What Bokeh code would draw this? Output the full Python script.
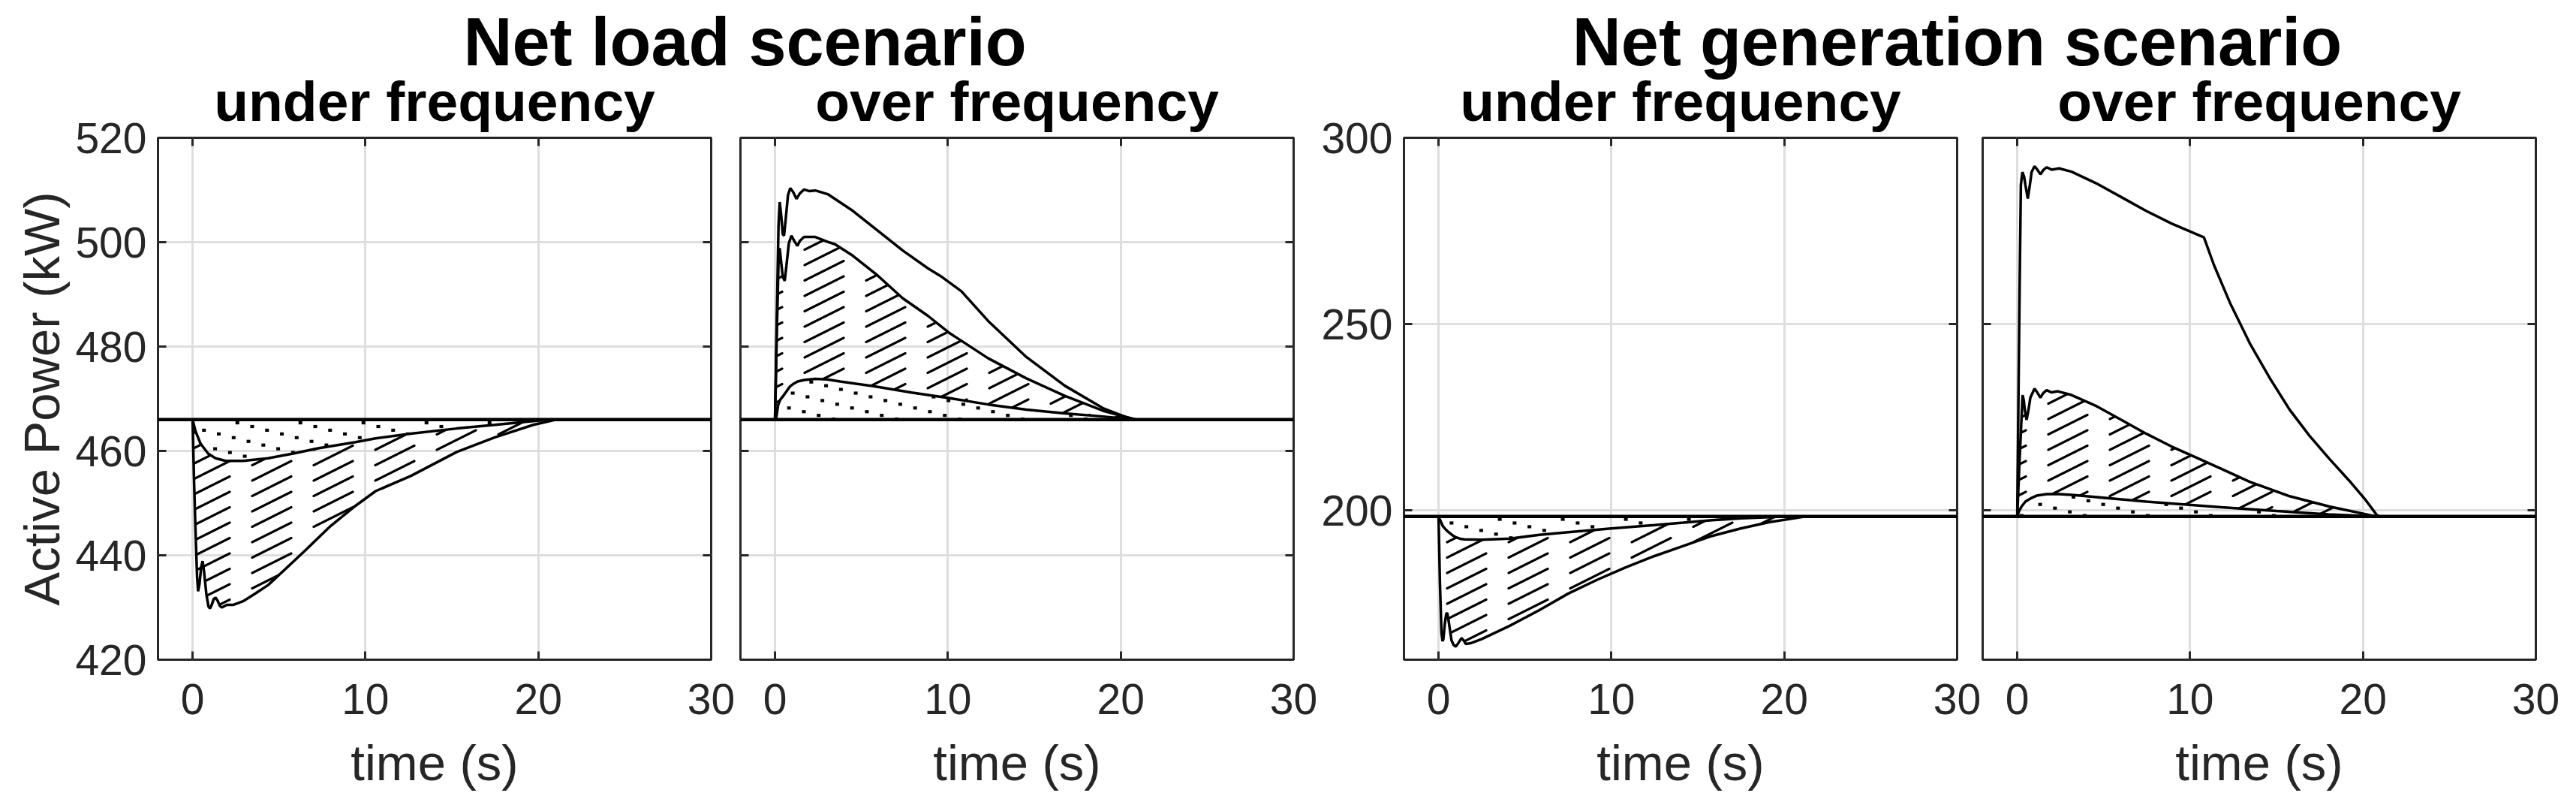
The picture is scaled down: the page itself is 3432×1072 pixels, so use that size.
import base64
import struct
import zlib
import numpy as np
from bokeh.plotting import figure
from bokeh.models import Range1d, LinearAxis, FixedTicker, Span, Grid, ImageURLTexture
from bokeh.layouts import row, column
from bokeh.embed import file_html
from bokeh.resources import INLINE
from bokeh.core.properties import value

# ---------------- data ----------------
MAIN_TITLES = ["Net load scenario", "Net generation scenario"]
SUB_TITLES = ["under frequency", "over frequency", "under frequency", "over frequency"]
X_LABEL = "time (s)"
Y_LABEL = "Active Power (kW)"
X_TICKS = [0, 10, 20, 30]
NL_Y_TICKS = [420, 440, 460, 480, 500, 520]
NG_Y_TICKS = [200, 250, 300]

NL_BASE = 466.0
NG_BASE = 198.4

# Net load, under frequency
nl_uf_shallow_t = [0, 0.17, 0.46, 0.90, 1.33, 1.91, 2.92, 4.37, 5.81, 7.26, 9.43, 10.59, 12.62, 15.28, 17.49, 19.93, 20.81]
nl_uf_shallow_v = [466.0, 463.8, 461.4, 459.5, 458.6, 458.1, 458.1, 458.6, 459.5, 460.5, 461.7, 462.4, 463.3, 464.3, 465.0, 465.8, 466.0]
nl_uf_deep_t = [0, 0.08, 0.17, 0.26, 0.32, 0.40, 0.50, 0.58, 0.66, 0.80, 0.92, 1.01, 1.12, 1.22, 1.33, 1.45, 1.58, 1.69, 1.98, 2.34, 2.92, 3.64, 4.37, 5.09, 6.54, 7.98, 9.43, 10.59, 12.62, 15.28, 17.49, 19.71, 21.03]
nl_uf_deep_v = [466.0, 455.0, 444.7, 436.0, 433.1, 434.5, 437.8, 438.9, 437.0, 432.5, 430.2, 429.8, 430.6, 431.6, 431.9, 431.3, 430.3, 430.0, 430.5, 430.5, 431.2, 432.7, 434.3, 436.5, 441.0, 445.6, 449.5, 452.3, 455.2, 459.8, 462.6, 465.0, 466.0]

# Net load, over frequency
nl_of_top_t = [0, 0.10, 0.20, 0.27, 0.36, 0.45, 0.52, 0.62, 0.75, 0.88, 1.05, 1.24, 1.45, 1.68, 1.97, 2.33, 3.05, 4.50, 5.94, 7.39, 8.84, 9.67, 10.78, 12.33, 14.54, 16.76, 18.97, 20.30, 20.85]
nl_of_top_v = [466.0, 485.0, 503.0, 507.7, 505.0, 501.5, 501.25, 504.5, 509.0, 510.36, 509.6, 508.3, 509.4, 510.1, 509.8, 509.9, 509.2, 506.0, 502.2, 498.4, 495.0, 493.3, 490.6, 484.9, 478.0, 472.5, 468.2, 466.5, 466.0]
nl_of_mid_t = [0, 0.10, 0.20, 0.27, 0.36, 0.45, 0.56, 0.66, 0.80, 0.95, 1.12, 1.29, 1.45, 1.68, 2.03, 2.33, 3.05, 3.47, 4.50, 5.94, 7.39, 8.84, 10.11, 12.33, 14.54, 16.76, 18.97, 20.85]
nl_of_mid_v = [466.0, 482.0, 496.0, 498.85, 496.0, 493.3, 492.6, 495.5, 499.8, 501.25, 500.2, 499.3, 500.3, 501.0, 501.0, 501.0, 500.05, 499.6, 497.4, 493.6, 489.25, 485.9, 482.55, 477.75, 473.9, 470.55, 467.7, 466.0]
nl_of_low_t = [0, 0.08, 0.18, 0.30, 0.49, 0.70, 0.88, 1.04, 1.31, 1.70, 2.33, 3.00, 3.77, 5.69, 7.90, 10.11, 12.33, 14.54, 16.76, 18.97, 20.85]
nl_of_low_v = [466.0, 466.5, 468.8, 469.8, 470.6, 471.6, 472.4, 472.8, 473.3, 473.6, 473.8, 473.7, 473.3, 472.4, 471.2, 470.1, 468.9, 467.9, 467.2, 466.6, 466.0]

# Net generation, under frequency
ng_uf_shallow_t = [0, 0.12, 0.24, 0.40, 0.58, 0.80, 1.00, 1.25, 1.49, 2.49, 4.16, 5.83, 7.49, 9.99, 12.49, 14.15, 15.82, 17.48, 19.15, 19.98]
ng_uf_shallow_v = [198.4, 197.2, 195.9, 195.0, 194.2, 193.4, 192.85, 192.45, 192.3, 192.17, 192.5, 193.5, 194.2, 195.2, 196.1, 196.76, 197.43, 197.9, 198.24, 198.4]
ng_uf_deep_t = [0, 0.08, 0.17, 0.23, 0.28, 0.36, 0.44, 0.50, 0.58, 0.75, 0.88, 1.00, 1.15, 1.33, 1.45, 1.58, 1.91, 2.49, 4.16, 5.83, 7.49, 9.16, 10.82, 12.49, 14.15, 15.82, 17.48, 19.15, 20.81, 21.20]
ng_uf_deep_v = [198.4, 180.7, 167.2, 165.0, 165.5, 169.5, 172.2, 172.6, 170.5, 165.2, 163.9, 163.5, 164.5, 165.8, 165.2, 164.2, 164.5, 165.5, 169.2, 173.3, 177.7, 181.4, 184.75, 187.8, 190.5, 193.2, 195.2, 196.9, 198.1, 198.4]

# Net generation, over frequency
ng_of_top_t = [0, 0.07, 0.14, 0.21, 0.30, 0.40, 0.47, 0.61, 0.72, 0.83, 1.00, 1.17, 1.34, 1.50, 1.70, 1.99, 2.42, 3.14, 4.59, 6.03, 7.47, 8.92, 10.80, 11.38, 12.30, 13.45, 14.60, 15.75, 16.90, 18.05, 19.19, 20.11, 20.80, 20.95]
ng_of_top_v = [198.4, 230.0, 260.5, 287.4, 290.8, 289.5, 287.4, 283.7, 287.0, 290.8, 292.4, 291.4, 290.2, 291.3, 292.1, 291.45, 291.8, 290.9, 287.75, 284.06, 280.36, 277.0, 273.3, 265.86, 255.8, 244.9, 235.6, 227.1, 220.1, 213.9, 208.1, 203.1, 198.8, 198.4]
ng_of_mid_t = [0, 0.12, 0.22, 0.31, 0.38, 0.44, 0.54, 0.65, 0.76, 1.00, 1.17, 1.34, 1.50, 1.70, 1.99, 2.35, 3.14, 4.59, 6.03, 7.47, 8.92, 10.36, 11.81, 13.45, 15.75, 18.05, 20.80]
ng_of_mid_v = [198.4, 212.0, 222.0, 231.0, 229.5, 227.0, 224.3, 227.0, 230.3, 232.7, 231.6, 230.3, 231.5, 232.3, 231.7, 232.0, 231.0, 228.0, 224.3, 220.6, 217.2, 214.2, 211.2, 207.7, 203.85, 201.1, 198.4]
ng_of_low_t = [0, 0.10, 0.25, 0.47, 0.83, 1.12, 1.70, 2.42, 3.14, 4.59, 6.03, 7.47, 8.92, 11.81, 15.00, 18.00, 20.80]
ng_of_low_v = [198.4, 199.8, 201.1, 202.4, 203.4, 204.0, 204.4, 204.4, 204.2, 203.6, 203.0, 202.4, 201.9, 200.9, 199.9, 199.0, 198.4]

# ---------------- style ----------------
FONT = "Liberation Sans"
AX = "#262626"
GRID = "#dedede"
FRAME_W = 737
FRAME_H = 695
HDR_H = 178          # header (titles) height
OVERLAP = 30         # panels row is pulled up under the (transparent) header bottom
TOP_B = 5 + OVERLAP
BOT_B = 190
TICK_FS = "57px"
LAB_FS = "67px"
MAIN_Y = 55          # vertical centre of the main titles in the header
SUB_Y = 134          # vertical centre of the subtitles in the header


def _png_data_url(alpha):
    h, w = alpha.shape
    rgba = np.zeros((h, w, 4), dtype=np.uint8)
    rgba[..., 3] = np.clip(alpha * 255, 0, 255).astype(np.uint8)
    raw = b"".join(b"\x00" + rgba[y].tobytes() for y in range(h))

    def chunk(tag, data):
        return struct.pack(">I", len(data)) + tag + data + struct.pack(">I", zlib.crc32(tag + data) & 0xffffffff)

    png = (b"\x89PNG\r\n\x1a\n" + chunk(b"IHDR", struct.pack(">IIBBBBB", w, h, 8, 6, 0, 0, 0))
           + chunk(b"IDAT", zlib.compress(raw)) + chunk(b"IEND", b""))
    return "data:image/png;base64," + base64.b64encode(png).decode()


def dash_tile(s=82):
    Y, X = np.mgrid[0:s, 0:s] + 0.5
    d = np.full((s, s), 1e9)
    dx, dy = 52.0, -26.0
    for k in range(-8, 13):
        x0, y0 = 8.0, k * s / 4.0
        t = np.clip(((X - x0) * dx + (Y - y0) * dy) / (dx * dx + dy * dy), 0, 1)
        dist = np.hypot(X - x0 - t * dx, Y - y0 - t * dy)
        d = np.minimum(d, dist)
    return _png_data_url(np.clip(2.1 - d, 0, 1))


def dot_tile(s=84):
    Y, X = np.mgrid[0:s, 0:s] + 0.5
    a = np.zeros((s, s))
    for i in range(-20, 21):
        for j in range(-20, 21):
            px = i * 4 * s / 17 - j * s / 17
            py = i * s / 17 + j * 4 * s / 17
            if -5 < px < s + 5 and -5 < py < s + 5:
                v = np.clip(3.0 - np.abs(X - px), 0, 1) * np.clip(2.6 - np.abs(Y - py), 0, 1)
                a = np.maximum(a, v)
    return _png_data_url(a)


DASH_TEX = ImageURLTexture(url=dash_tile(), repetition="repeat")
DOT_TEX = ImageURLTexture(url=dot_tile(), repetition="repeat")


def style_axis(ax, labels=True):
    ax.axis_line_color = None
    ax.major_tick_in = 11
    ax.major_tick_out = 0
    ax.major_tick_line_color = AX
    ax.major_tick_line_width = 3
    ax.minor_tick_line_color = None
    ax.major_label_text_font = FONT
    ax.major_label_text_color = AX
    ax.axis_label_text_font = FONT
    ax.axis_label_text_font_size = LAB_FS
    ax.axis_label_text_font_style = "normal"
    ax.axis_label_text_color = AX
    if labels:
        ax.major_label_text_font_size = TICK_FS
        ax.major_label_standoff = 15
    else:
        ax.major_label_text_font_size = "1px"
        ax.major_label_standoff = 0
        ax.major_label_overrides = {t: "" for t in ax.ticker.ticks}


def make_panel(ylo, yhi, yticks, show_ylab, ylabel, bl, br):
    p = figure(width=bl + FRAME_W + br, height=TOP_B + FRAME_H + BOT_B,
               x_range=Range1d(-2, 30), y_range=Range1d(ylo, yhi),
               output_backend="svg", toolbar_location=None,
               x_axis_type=None, y_axis_type=None,
               min_border_left=bl, min_border_right=br,
               min_border_top=TOP_B, min_border_bottom=BOT_B)
    p.title = None
    p.background_fill_color = "white"
    p.border_fill_color = None
    p.outline_line_color = AX
    p.outline_line_width = 3
    p.outline_line_alpha = 1

    gx = Grid(dimension=0, ticker=FixedTicker(ticks=X_TICKS), grid_line_color=GRID, grid_line_width=3)
    gy = Grid(dimension=1, ticker=FixedTicker(ticks=yticks), grid_line_color=GRID, grid_line_width=3)
    p.add_layout(gx, "center")
    p.add_layout(gy, "center")

    xb = LinearAxis(ticker=FixedTicker(ticks=X_TICKS), axis_label=X_LABEL)
    style_axis(xb, True)
    xb.major_label_standoff = 32
    xb.axis_label_standoff = 24
    p.add_layout(xb, "below")

    xt = LinearAxis(ticker=FixedTicker(ticks=X_TICKS))
    style_axis(xt, False)
    p.add_layout(xt, "above")

    yl = LinearAxis(ticker=FixedTicker(ticks=yticks), axis_label=ylabel)
    style_axis(yl, show_ylab)
    yl.axis_label_standoff = 4
    p.add_layout(yl, "left")

    yr = LinearAxis(ticker=FixedTicker(ticks=yticks))
    style_axis(yr, False)
    p.add_layout(yr, "right")
    return p


def dotted(p, t, v):
    p.patch(t, v, fill_color=None, line_color=None,
            hatch_pattern="mydots", hatch_extra={"mydots": DOT_TEX})


def hatched(p, t_a, v_a, t_b, v_b):
    xs = list(t_a) + list(t_b)[::-1]
    ys = list(v_a) + list(v_b)[::-1]
    p.patch(xs, ys, fill_color=None, line_color=None,
            hatch_pattern="mydash", hatch_extra={"mydash": DASH_TEX})


def curve(p, t, v):
    p.line(t, v, line_color="black", line_width=3.5)


def base(p, b):
    p.add_layout(Span(location=b, dimension="width", line_color="black", line_width=4.5))


# Panel 1
f1 = make_panel(420, 520, NL_Y_TICKS, True, Y_LABEL, 210, 35)
dotted(f1, nl_uf_shallow_t, nl_uf_shallow_v)
hatched(f1, nl_uf_shallow_t, nl_uf_shallow_v, nl_uf_deep_t, nl_uf_deep_v)
curve(f1, nl_uf_shallow_t, nl_uf_shallow_v)
curve(f1, nl_uf_deep_t, nl_uf_deep_v)
base(f1, NL_BASE)

# Panel 2
f2 = make_panel(420, 520, NL_Y_TICKS, False, None, 4, 33)
dotted(f2, nl_of_low_t, nl_of_low_v)
hatched(f2, nl_of_low_t, nl_of_low_v, nl_of_mid_t, nl_of_mid_v)
curve(f2, nl_of_low_t, nl_of_low_v)
curve(f2, nl_of_mid_t, nl_of_mid_v)
curve(f2, nl_of_top_t, nl_of_top_v)
base(f2, NL_BASE)

# Panel 3
f3 = make_panel(160, 300, NG_Y_TICKS, True, None, 114, 32)
dotted(f3, ng_uf_shallow_t, ng_uf_shallow_v)
hatched(f3, ng_uf_shallow_t, ng_uf_shallow_v, ng_uf_deep_t, ng_uf_deep_v)
curve(f3, ng_uf_shallow_t, ng_uf_shallow_v)
curve(f3, ng_uf_deep_t, ng_uf_deep_v)
base(f3, NG_BASE)

# Panel 4
f4 = make_panel(160, 300, NG_Y_TICKS, False, None, 2, 33)
dotted(f4, ng_of_low_t, ng_of_low_v)
hatched(f4, ng_of_low_t, ng_of_low_v, ng_of_mid_t, ng_of_mid_v)
curve(f4, ng_of_low_t, ng_of_low_v)
curve(f4, ng_of_mid_t, ng_of_mid_v)
curve(f4, ng_of_top_t, ng_of_top_v)
base(f4, NG_BASE)

panels = [f1, f2, f3, f4]
TOTAL_W = sum(p.width for p in panels)

frame_left = []
acc = 0
for p in panels:
    frame_left.append(acc + p.min_border_left)
    acc += p.width
sub_x = [fl + FRAME_W / 2 for fl in frame_left]
main_x = [992, 2607]

hdr = figure(width=TOTAL_W, height=HDR_H, x_range=Range1d(0, TOTAL_W), y_range=Range1d(HDR_H, 0),
             output_backend="svg", toolbar_location=None,
             x_axis_type=None, y_axis_type=None,
             min_border=0)
hdr.title = None
hdr.outline_line_color = None
hdr.background_fill_color = None
hdr.border_fill_color = None
hdr.text(x=main_x, y=[MAIN_Y] * 2, text=MAIN_TITLES, text_font=value(FONT), text_font_style="bold",
         text_font_size="90px", text_align="center", text_baseline="middle", text_color="black")
hdr.text(x=sub_x, y=[SUB_Y] * 4, text=SUB_TITLES, text_font=value(FONT), text_font_style="bold",
         text_font_size="75px", text_align="center", text_baseline="middle", text_color="black")

prow = row(*panels)
prow.margin = (-OVERLAP, 0, 0, 0)
layout = column(hdr, prow)

open("out.html", "w").write(file_html(layout, INLINE))
